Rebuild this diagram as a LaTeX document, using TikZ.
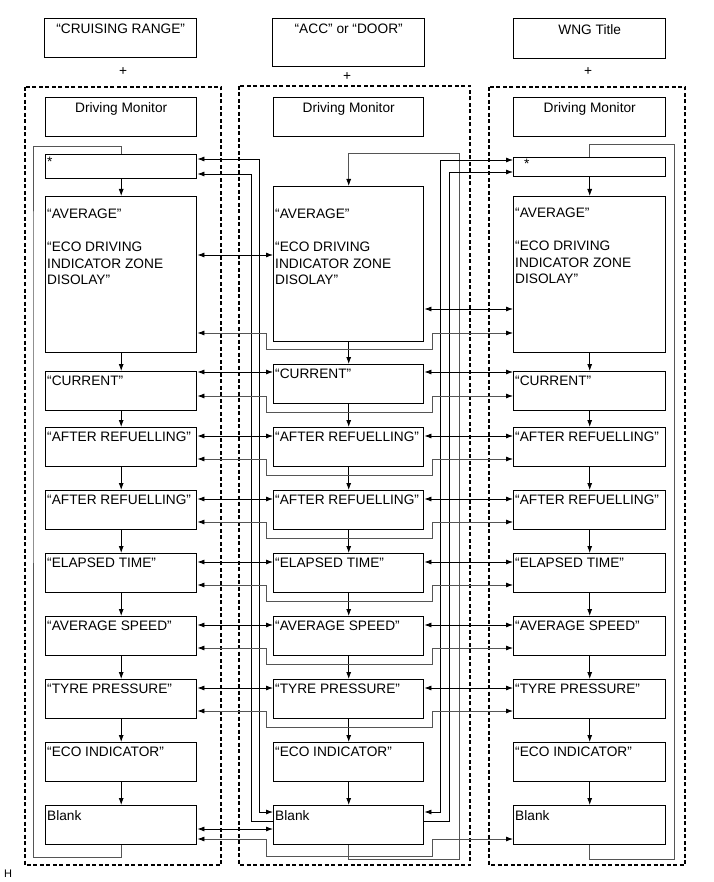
\documentclass[tikz,border=0pt]{standalone}
\usepackage{fontspec}
\setmainfont{Liberation Sans}
\usetikzlibrary{arrows.meta,positioning}
\definecolor{wiregray}{RGB}{85,85,85}
\tikzstyle{box} = [draw, line width=1.4pt, anchor=north west, minimum height=39, inner sep=0pt]
\tikzstyle{txt} = [anchor=north west, inner xsep=2pt, inner ysep=5pt, align=left]
\tikzstyle{ttl} = [anchor=north, inner ysep=6pt]
\tikzstyle{frame} = [line width=1.2pt, dash pattern=on 4pt off 2.5pt]
\tikzstyle{arrow} = [line width=0.8pt, -{Latex[length=7pt,width=5pt,black]}]
\tikzstyle{dbl} = [line width=0.8pt, {Latex[length=7pt,width=5pt,black]}-{Latex[length=7pt,width=5pt,black]}]
\tikzstyle{wire} = [line width=0.8pt, wiregray]

\begin{document}
\begin{tikzpicture}[x=1pt, y=-1pt, font=\fontsize{13.7}{16.5}\selectfont]
\useasboundingbox (0,0) rectangle (713,882);

% Dashed groups
\draw[frame] (25,87) rectangle (221,865);
\draw[frame] (239,86) rectangle (470,865);
\draw[frame] (489,87) rectangle (685,865);

% Titles
\node[box, minimum width=152, minimum height=39, label={[ttl]north:{“CRUISING RANGE”}}] (lTitle) at (44,18) {};
\node[box, minimum width=152, minimum height=48, label={[ttl]north:{“ACC” or “DOOR”}}] (mTitle) at (272,18) {};
\node[box, minimum width=152, minimum height=40, label={[ttl]north:{WNG Title}}] (rTitle) at (513,18) {};
\node (lPlus) at (123,72) {+};
\node (mPlus) at (347,77) {+};
\node (rPlus) at (588,72) {+};

% Rows shared by all three columns
\foreach \col/\xx/\ww in {l/45/151, m/273/150, r/513/152} {
  \node[box, minimum width=\ww, label={[ttl, inner ysep=5pt]north:{Driving Monitor}}] (\col DM) at (\xx,97) {};
  \foreach \row/\yy/\lbl in {Ar1/427/{“AFTER REFUELLING”}, Ar2/490/{“AFTER REFUELLING”},
      Ela/553/{“ELAPSED TIME”}, Spd/616/{“AVERAGE SPEED”}, Tyr/679/{“TYRE PRESSURE”},
      Eco/742/{“ECO INDICATOR”}, Blk/805/{Blank}}
    \node[box, minimum width=\ww, label={[txt]north west:\lbl}] (\col\row) at (\xx,\yy) {};
}

% Left column
\node[box, minimum width=151, minimum height=24, label={[txt, inner ysep=3pt]north west:*}] (lStar) at (45,154) {};
\node[box, minimum width=151, minimum height=156, label={[txt, yshift=-8pt]north west:{“AVERAGE”\\[16.5pt]“ECO DRIVING\\INDICATOR ZONE\\DISOLAY”}}] (lAvg) at (45,196) {};
\node[box, minimum width=151, label={[txt]north west:{“CURRENT”}}] (lCur) at (45,371) {};

% Middle column
\node[box, minimum width=150, minimum height=155, label={[txt, yshift=-18pt]north west:{“AVERAGE”\\[16.5pt]“ECO DRIVING\\INDICATOR ZONE\\DISOLAY”}}] (mAvg) at (273,186) {};
\node[box, minimum width=150, label={[txt]north west:{“CURRENT”}}] (mCur) at (273,364) {};

% Right column
\node[box, minimum width=152, minimum height=19, label={[txt, xshift=9pt, inner ysep=2pt]north west:*}] (rStar) at (513,157) {};
\node[box, minimum width=152, minimum height=156, label={[txt, yshift=-7pt]north west:{“AVERAGE”\\[16.5pt]“ECO DRIVING\\INDICATOR ZONE\\DISOLAY”}}] (rAvg) at (513,196) {};
\node[box, minimum width=152, label={[txt]north west:{“CURRENT”}}] (rCur) at (513,371) {};

% Down arrows
\foreach \col in {l,m,r}
  \foreach \a/\b in {Avg/Cur, Cur/Ar1, Ar1/Ar2, Ar2/Ela, Ela/Spd, Spd/Tyr, Tyr/Eco, Eco/Blk}
    \draw[arrow] (\col\a.south) -- (\col\b.north);
\draw[arrow] (lStar.south) -- (lAvg.north);
\draw[arrow] (rStar.south) -- (rAvg.north);

% Loops back to the top
\draw[wire] (lBlk.south) -- ++(0,12) -| ([xshift=-12pt]lAvg.west) |- ([yshift=8pt]lStar.north) -- (lStar.north);
\draw[wire, arrow] (mBlk.south) -- ++(0,14) -| ([xshift=35pt]mAvg.east) |- ([yshift=33pt]mAvg.north) -- (mAvg.north);
\draw[wire] (rBlk.south) -- ++(0,14) -| ([xshift=8pt]rAvg.east) |- ([yshift=13pt]rStar.north) -- (rStar.north);

% Long lines between Blank and *
\draw[dbl] ([yshift=-5pt]lStar.north east) -| ([xshift=-14pt, yshift=-7pt]mBlk.north west) -- ([yshift=-7pt]mBlk.north west);
\draw[arrow] ([yshift=-16pt]mBlk.north west) -- ++(-22,0) |- ([yshift=-20pt]lStar.north east);
\draw[dbl] ([yshift=-3pt]rStar.north west) -| ([xshift=16pt, yshift=-7pt]mBlk.north east) -- ([yshift=-7pt]mBlk.north east);
\draw[arrow] ([yshift=-16pt]mBlk.north east) -- ++(25,0) |- ([yshift=-15pt]rStar.north west);

% Row links
\foreach \row in {Ar1,Ar2,Ela,Spd,Tyr} {
  \draw[dbl] ([yshift=-9pt]l\row.north east) -- ([yshift=-9pt]m\row.north west);
  \draw[dbl] ([yshift=-9pt]m\row.north east) -- ([yshift=-9pt]r\row.north west);
  \draw[dbl, wire] ([yshift=-32pt]l\row.north east) -| ([xshift=-7pt, yshift=-8pt]m\row.south west)
    -| ([xshift=8pt, yshift=-32pt]m\row.north east) -- ([yshift=-32pt]r\row.north west);
}
\draw[dbl] ([yshift=-1pt]lCur.north east) -- ([yshift=-8pt]mCur.north west);
\draw[dbl] ([yshift=-8pt]mCur.north east) -- ([yshift=-1pt]rCur.north west);
\draw[dbl, wire] ([yshift=-25pt]lCur.north east) -| ([xshift=-7pt, yshift=-8pt]mCur.south west)
  -| ([xshift=8pt, yshift=-32pt]mCur.north east) -- ([yshift=-25pt]rCur.north west);
\draw[dbl] ([yshift=-59pt]lAvg.north east) -- ([yshift=-69pt]mAvg.north west);
\draw[dbl] ([yshift=-123pt]mAvg.north east) -- ([yshift=-113pt]rAvg.north west);
\draw[dbl, wire] ([yshift=-137pt]lAvg.north east) -| ([xshift=-7pt, yshift=-7pt]mAvg.south west)
  -| ([xshift=8pt, yshift=-147pt]mAvg.north east) -- ([yshift=-137pt]rAvg.north west);
\draw[dbl] ([yshift=-24pt]lBlk.north east) -- ([yshift=-24pt]mBlk.north west);
\draw[dbl, wire] ([yshift=-34pt]lBlk.north east) -| ([xshift=-7pt, yshift=-11pt]mBlk.south west)
  -| ([xshift=8pt, yshift=-34pt]mBlk.north east) -- ([yshift=-34pt]rBlk.north west);

\node[font=\fontsize{11}{13}\selectfont] (hMark) at (8,874) {H};
\end{tikzpicture}
\end{document}
